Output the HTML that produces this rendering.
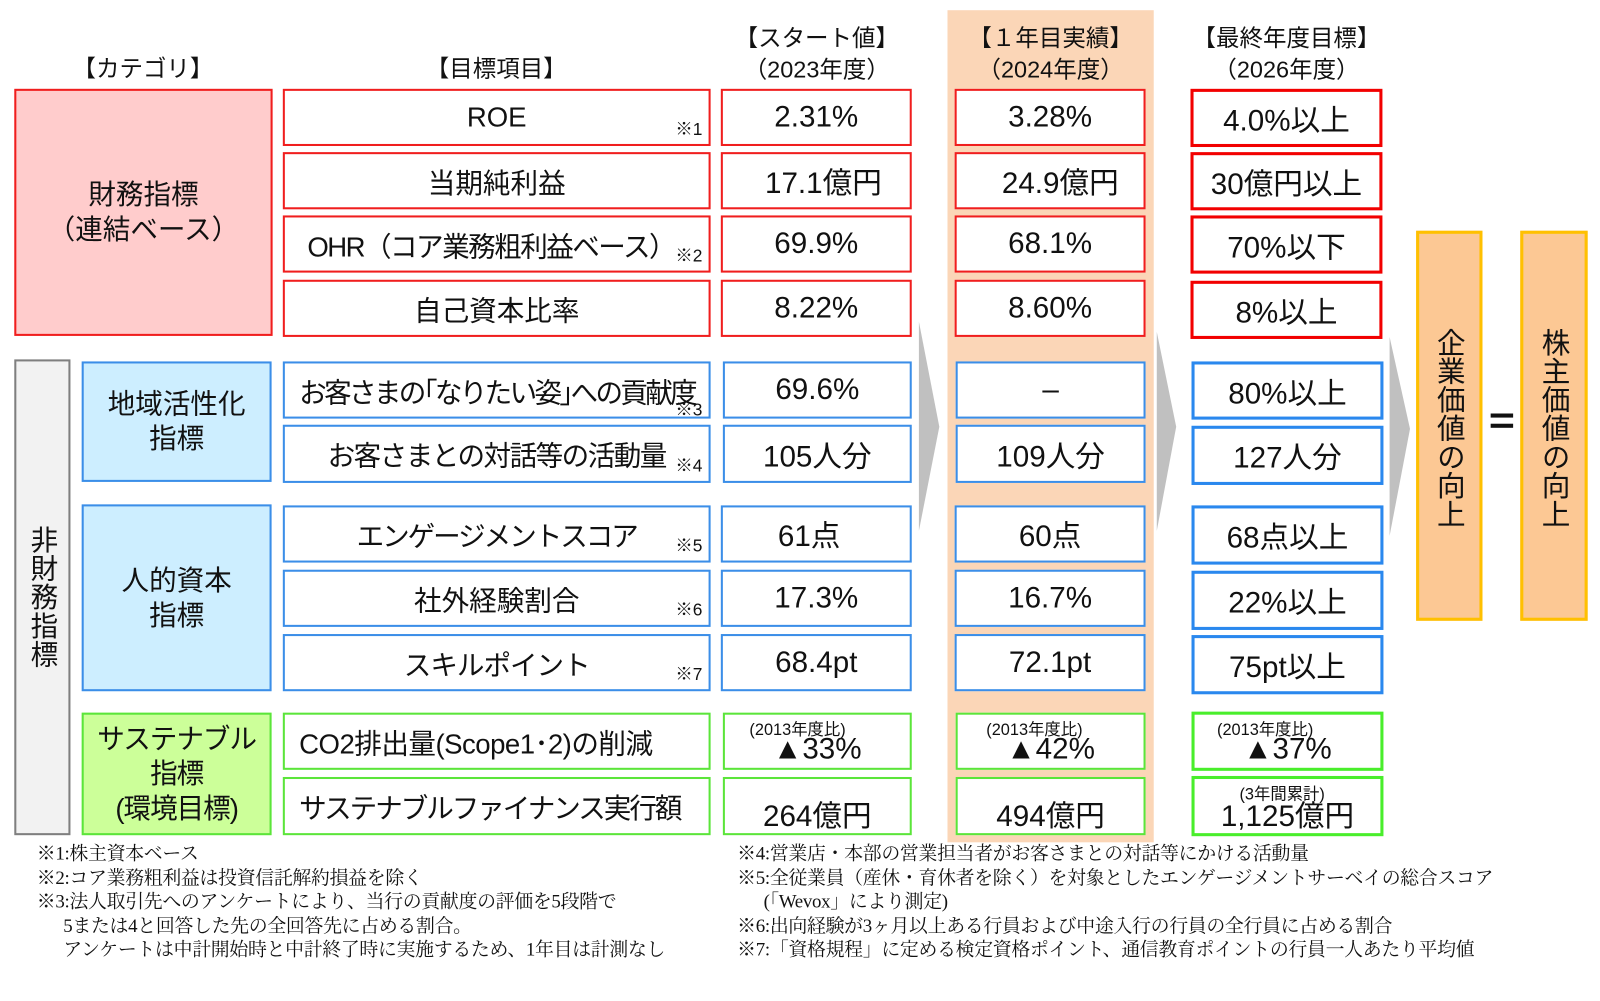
<!DOCTYPE html>
<html><head><meta charset="utf-8"><style>
body{margin:0;width:1600px;height:980px;background:#fff;position:relative;overflow:hidden;font-family:"Liberation Sans","Noto Sans CJK JP",sans-serif;color:#111}
#w{position:absolute;left:0;top:0;width:1567px;height:960px;transform:scale(1.021);transform-origin:0 0}
div{box-sizing:border-box}
.a{position:absolute}
.b{position:absolute;background:#fff;display:flex;align-items:center;justify-content:center;font-size:27px;white-space:nowrap}
.v{font-size:29px}
.r{border:2px solid #f01e1e}
.bl{border:2px solid #3b8ee8}
.g{border:2px solid #5be53a}
.rt{border:3px solid #f20000}
.blt{border:3px solid #2a88ee}
.gt{border:3px solid #49ee2b}
.n{position:absolute;right:6px;bottom:4px;font-size:17px;letter-spacing:0}
.h{position:absolute;font-size:23px;text-align:center;line-height:31px;white-space:nowrap}
.fn{position:absolute;font-family:"Liberation Serif","Noto Serif CJK JP",serif;font-size:18.5px;line-height:23.5px;white-space:pre;letter-spacing:-0.3px}
.sm{position:absolute;font-size:16px;top:1px}
</style></head><body><div id="w">
<div class="a" style="left:928px;top:10px;width:202px;height:815px;background:#fbd6b7"></div>

<div class="h" style="left:40px;top:52px;width:200px">【カテゴリ】</div>
<div class="h" style="left:386px;top:52px;width:200px">【目標項目】</div>
<div class="h" style="left:700px;top:22px;width:200px">【スタート値】<br>（2023年度）</div>
<div class="h" style="left:928px;top:22px;width:202px">【１年目実績】<br>（2024年度）</div>
<div class="h" style="left:1160px;top:22px;width:200px">【最終年度目標】<br>（2026年度）</div>

<div class="b r" style="left:14px;top:87px;width:253px;height:242px;background:#ffcccc;flex-direction:column;line-height:34px">財務指標<span>（連結ベース）</span></div>
<div class="b" style="left:14px;top:352px;width:55px;height:466px;background:#f2f2f2;border:2px solid #7f7f7f;writing-mode:vertical-rl;letter-spacing:1px">非財務指標</div>
<div class="b bl" style="left:80px;top:354px;width:186px;height:118px;background:#cdeeff;flex-direction:column;line-height:34px">地域活性化<span>指標</span></div>
<div class="b bl" style="left:80px;top:494px;width:186px;height:183px;background:#cdeeff;flex-direction:column;line-height:34px">人的資本<span>指標</span></div>
<div class="b g" style="left:80px;top:698px;width:186px;height:120px;background:#ccff99;flex-direction:column;line-height:34px;letter-spacing:-1px">サステナブル<span>指標</span><span>(環境目標)</span></div>

<div class="b r" style="left:277px;top:87px;width:419px;height:56px">ROE<span class="n">※1</span></div>
<div class="b r" style="left:277px;top:149px;width:419px;height:56px">当期純利益</div>
<div class="b r" style="left:277px;top:211px;width:419px;height:56px;justify-content:flex-start;padding-left:22px;letter-spacing:-1.5px">OHR（コア業務粗利益ベース）<span class="n">※2</span></div>
<div class="b r" style="left:277px;top:274px;width:419px;height:56px">自己資本比率</div>
<div class="b bl" style="left:277px;top:354px;width:419px;height:56px;justify-content:flex-start;padding-left:14px;letter-spacing:-2.6px">お客さまの｢なりたい姿｣への貢献度<span class="n" style="bottom:-4px">※3</span></div>
<div class="b bl" style="left:277px;top:416px;width:419px;height:57px;letter-spacing:-1.5px">お客さまとの対話等の活動量<span class="n">※4</span></div>
<div class="b bl" style="left:277px;top:495px;width:419px;height:56px;letter-spacing:-2px">エンゲージメントスコア<span class="n">※5</span></div>
<div class="b bl" style="left:277px;top:558px;width:419px;height:56px">社外経験割合<span class="n">※6</span></div>
<div class="b bl" style="left:277px;top:621px;width:419px;height:56px;letter-spacing:-1px">スキルポイント<span class="n">※7</span></div>
<div class="b g" style="left:277px;top:698px;width:419px;height:56px;justify-content:flex-start;padding-left:14px;letter-spacing:-0.5px">CO2排出量(Scope1･2)の削減</div>
<div class="b g" style="left:277px;top:761px;width:419px;height:57px;justify-content:flex-start;padding-left:14px;letter-spacing:-2px">サステナブルファイナンス実行額</div>

<div class="b v r" style="left:706px;top:87px;width:187px;height:56px">2.31%</div>
<div class="b v r" style="left:706px;top:149px;width:187px;height:56px;padding-left:14px">17.1億円</div>
<div class="b v r" style="left:706px;top:211px;width:187px;height:56px">69.9%</div>
<div class="b v r" style="left:706px;top:274px;width:187px;height:56px">8.22%</div>
<div class="b v bl" style="left:708px;top:354px;width:185px;height:56px">69.6%</div>
<div class="b v bl" style="left:708px;top:416px;width:185px;height:57px">105人分</div>
<div class="b v bl" style="left:706px;top:495px;width:187px;height:56px;padding-right:14px">61点</div>
<div class="b v bl" style="left:706px;top:558px;width:187px;height:56px">17.3%</div>
<div class="b v bl" style="left:706px;top:621px;width:187px;height:56px">68.4pt</div>
<div class="b v g" style="left:708px;top:698px;width:185px;height:56px;padding-top:16px"><span class="sm" style="left:24px">(2013年度比)</span>▲33%</div>
<div class="b v g" style="left:708px;top:761px;width:185px;height:57px;padding-top:14px">264億円</div>

<div class="b v r" style="left:935px;top:87px;width:187px;height:56px">3.28%</div>
<div class="b v r" style="left:935px;top:149px;width:187px;height:56px;padding-left:20px">24.9億円</div>
<div class="b v r" style="left:935px;top:211px;width:187px;height:56px">68.1%</div>
<div class="b v r" style="left:935px;top:274px;width:187px;height:56px">8.60%</div>
<div class="b v bl" style="left:936px;top:354px;width:186px;height:56px">–</div>
<div class="b v bl" style="left:936px;top:416px;width:186px;height:57px">109人分</div>
<div class="b v bl" style="left:935px;top:495px;width:187px;height:56px">60点</div>
<div class="b v bl" style="left:935px;top:558px;width:187px;height:56px">16.7%</div>
<div class="b v bl" style="left:935px;top:621px;width:187px;height:56px">72.1pt</div>
<div class="b v g" style="left:936px;top:698px;width:186px;height:56px;padding-top:16px"><span class="sm" style="left:28px">(2013年度比)</span>▲42%</div>
<div class="b v g" style="left:936px;top:761px;width:186px;height:57px;padding-top:14px">494億円</div>

<div class="b v rt" style="left:1166px;top:87px;width:188px;height:57px">4.0%以上</div>
<div class="b v rt" style="left:1166px;top:149px;width:188px;height:57px">30億円以上</div>
<div class="b v rt" style="left:1166px;top:211px;width:188px;height:57px">70%以下</div>
<div class="b v rt" style="left:1166px;top:275px;width:188px;height:57px">8%以上</div>
<div class="b v blt" style="left:1167px;top:354px;width:188px;height:57px">80%以上</div>
<div class="b v blt" style="left:1167px;top:417px;width:188px;height:58px">127人分</div>
<div class="b v blt" style="left:1167px;top:495px;width:188px;height:58px">68点以上</div>
<div class="b v blt" style="left:1167px;top:559px;width:188px;height:58px">22%以上</div>
<div class="b v blt" style="left:1167px;top:622px;width:188px;height:58px">75pt以上</div>
<div class="b v gt" style="left:1167px;top:697px;width:188px;height:58px;padding-top:16px"><span class="sm" style="left:22px">(2013年度比)</span>▲37%</div>
<div class="b v gt" style="left:1167px;top:760px;width:188px;height:59px;padding-top:14px"><span class="sm" style="left:44px">(3年間累計)</span>1,125億円</div>

<svg class="a" style="left:0;top:0" width="1600" height="980">
<polygon points="900,315 920,418 900,520" fill="#c0c0c0"/>
<polygon points="1133,325 1152,418 1133,520" fill="#c0c0c0"/>
<polygon points="1361,330 1381,420 1361,525" fill="#c0c0c0"/>
<rect x="1460" y="405" width="22" height="4" fill="#111"/>
<rect x="1460" y="415" width="22" height="4" fill="#111"/>
</svg>

<div class="b" style="left:1387px;top:226px;width:65px;height:382px;background:#fcc894;border:3px solid #ffc000;writing-mode:vertical-rl;align-items:center;justify-content:flex-start;padding-top:92px;font-size:28px;line-height:1">企業価値の向上</div>
<div class="b" style="left:1489px;top:226px;width:66px;height:382px;background:#fcc894;border:3px solid #ffc000;writing-mode:vertical-rl;align-items:center;justify-content:flex-start;padding-top:92px;font-size:28px;line-height:1">株主価値の向上</div>

<div class="fn" style="left:36px;top:826px">※1:株主資本ベース
※2:コア業務粗利益は投資信託解約損益を除く
※3:法人取引先へのアンケートにより、当行の貢献度の評価を5段階で
      5または4と回答した先の全回答先に占める割合。
      アンケートは中計開始時と中計終了時に実施するため、1年目は計測なし</div>
<div class="fn" style="left:722px;top:826px">※4:営業店・本部の営業担当者がお客さまとの対話等にかける活動量
※5:全従業員（産休・育休者を除く）を対象としたエンゲージメントサーベイの総合スコア
      (「Wevox」により測定)
※6:出向経験が3ヶ月以上ある行員および中途入行の行員の全行員に占める割合
※7:「資格規程」に定める検定資格ポイント、通信教育ポイントの行員一人あたり平均値</div>
</div></body></html>
